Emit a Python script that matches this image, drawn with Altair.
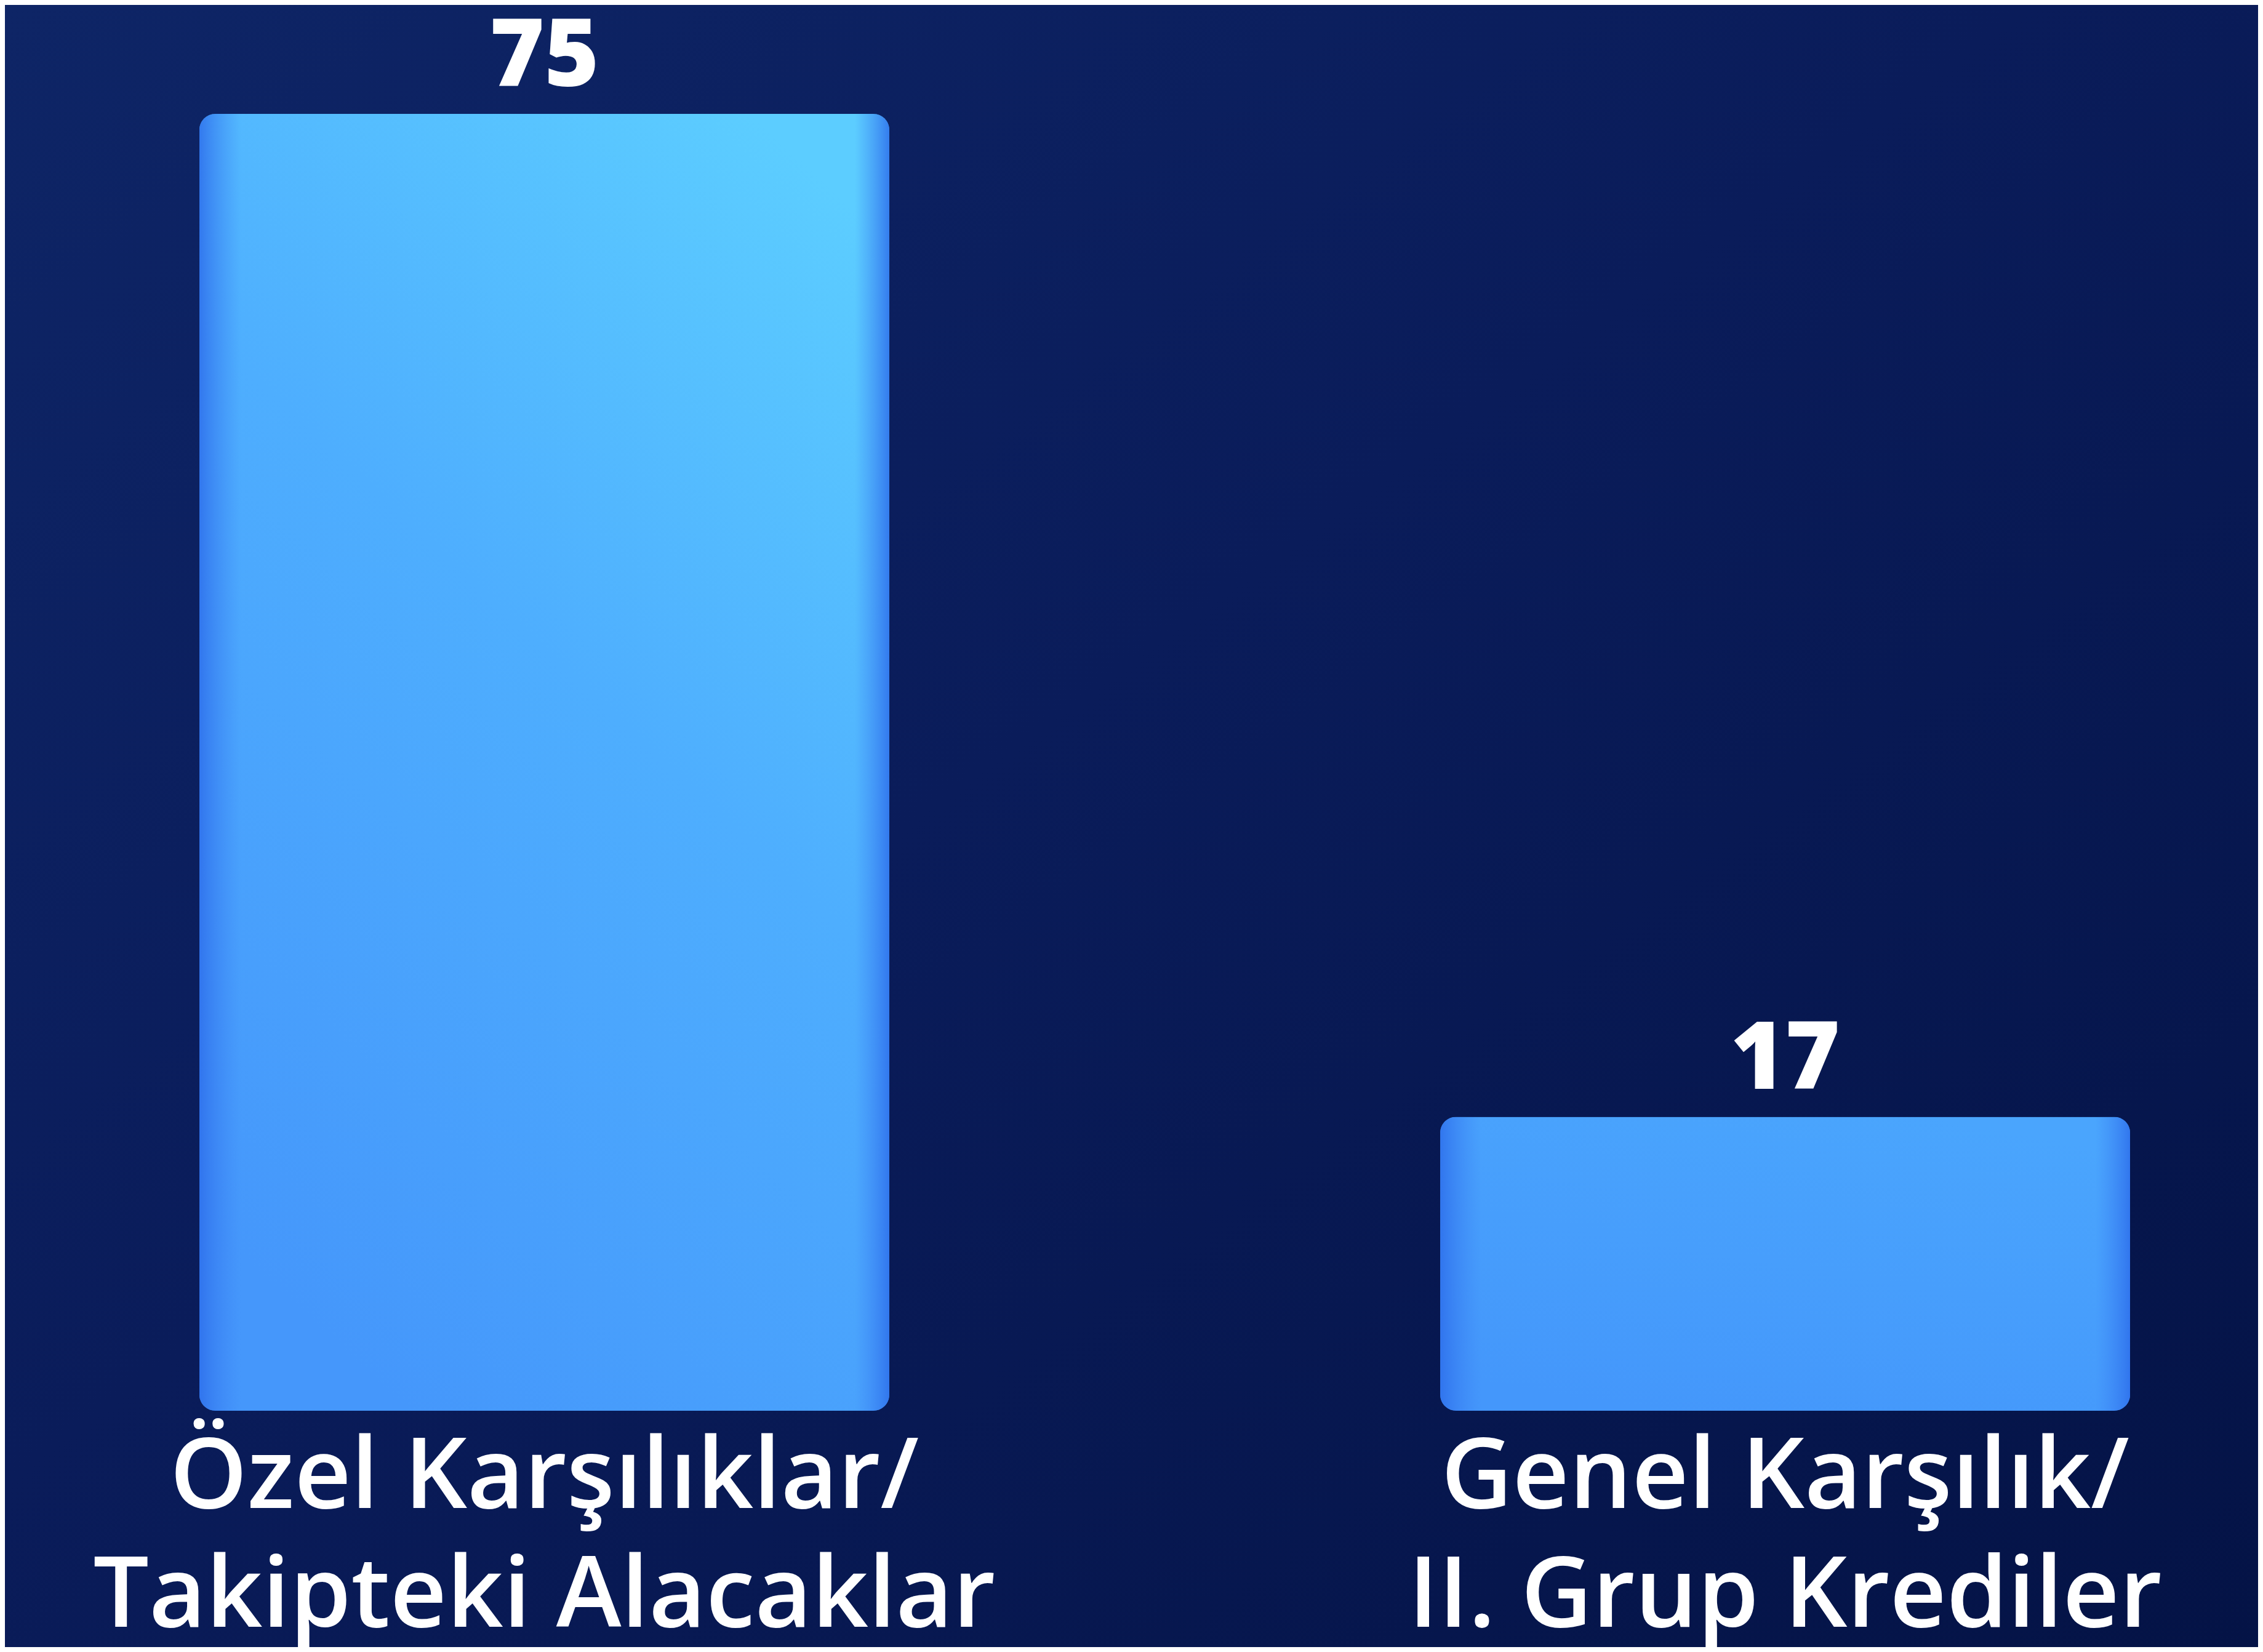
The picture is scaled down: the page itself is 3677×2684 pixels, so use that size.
import altair as alt
import pandas as pd

# ---- data ----
categories = ["Özel Karşılıklar/\nTakipteki Alacaklar", "Genel Karşılık/\nII. Grup Krediler"]
values = [75, 17]
value_labels = ["75", "17"]

df = pd.DataFrame({"kategori": categories, "deger": values, "etiket": value_labels})

W, H = 3137, 2107
PAD = {"left": 316, "right": 208, "top": 177, "bottom": 384}
FONT = "Open Sans"

x_enc = alt.X("kategori:N", sort=categories, axis=None,
              scale=alt.Scale(paddingInner=0.444, paddingOuter=0))
y_enc = alt.Y("deger:Q", axis=None,
              scale=alt.Scale(domain=[0, 75], nice=False, zero=True))

bg_grad = alt.Gradient(
    gradient="linear",
    stops=[alt.GradientStop(color="#0e2566", offset=0),
           alt.GradientStop(color="#0a1c5a", offset=0.45),
           alt.GradientStop(color="#041346", offset=1)],
    x1=0, y1=0, x2=1, y2=1,
)

background = alt.Chart(pd.DataFrame({"a": [0]})).mark_rect(color=bg_grad).encode(
    x=alt.value(-PAD["left"]), x2=alt.value(W + PAD["right"]),
    y=alt.value(-PAD["top"]), y2=alt.value(H + PAD["bottom"]),
)

grad1 = alt.Gradient(
    gradient="linear",
    stops=[alt.GradientStop(color="#4597fb", offset=0),
           alt.GradientStop(color="#4eaefe", offset=0.55),
           alt.GradientStop(color="#5ccdff", offset=1)],
    x1=0.3, y1=1, x2=0.8, y2=0,
)
grad2 = alt.Gradient(
    gradient="linear",
    stops=[alt.GradientStop(color="#4497fb", offset=0),
           alt.GradientStop(color="#4aa5fd", offset=1)],
    x1=0.3, y1=1, x2=0.7, y2=0,
)
edge_grad = alt.Gradient(
    gradient="linear",
    stops=[alt.GradientStop(color="rgba(45,110,235,0.85)", offset=0),
           alt.GradientStop(color="rgba(60,130,245,0)", offset=0.06),
           alt.GradientStop(color="rgba(60,130,245,0)", offset=0.95),
           alt.GradientStop(color="rgba(45,110,235,0.85)", offset=1)],
    x1=0, y1=0, x2=1, y2=0,
)

base = alt.Chart(df)
bar1 = base.transform_filter(alt.datum.kategori == categories[0]).mark_bar(
    color=grad1, cornerRadius=26
).encode(x=x_enc, y=y_enc)
bar2 = base.transform_filter(alt.datum.kategori == categories[1]).mark_bar(
    color=grad2, cornerRadius=26
).encode(x=x_enc, y=y_enc)
edges = base.mark_bar(color=edge_grad, cornerRadius=26).encode(x=x_enc, y=y_enc)

value_text = base.mark_text(
    font=FONT, fontWeight=800, fontSize=152, color="white",
    baseline="alphabetic", align="center", dy=-45,
).encode(x=x_enc, y=y_enc, text="etiket:N")

cat_text = base.mark_text(
    font=FONT, fontWeight=600, fontSize=160, color="white",
    baseline="alphabetic", align="center", lineBreak="\n", lineHeight=193, dy=158,
).encode(x=x_enc, y=alt.value(H), text="kategori:N")

chart = alt.layer(background, bar1, bar2, edges, value_text, cat_text).properties(
    width=W, height=H, padding=PAD,
    autosize=alt.AutoSizeParams(type="none"),
).configure_view(stroke=None).configure(background="#0a1c5a")

chart.save("out.html", embed_options={"renderer": "svg", "actions": False})
